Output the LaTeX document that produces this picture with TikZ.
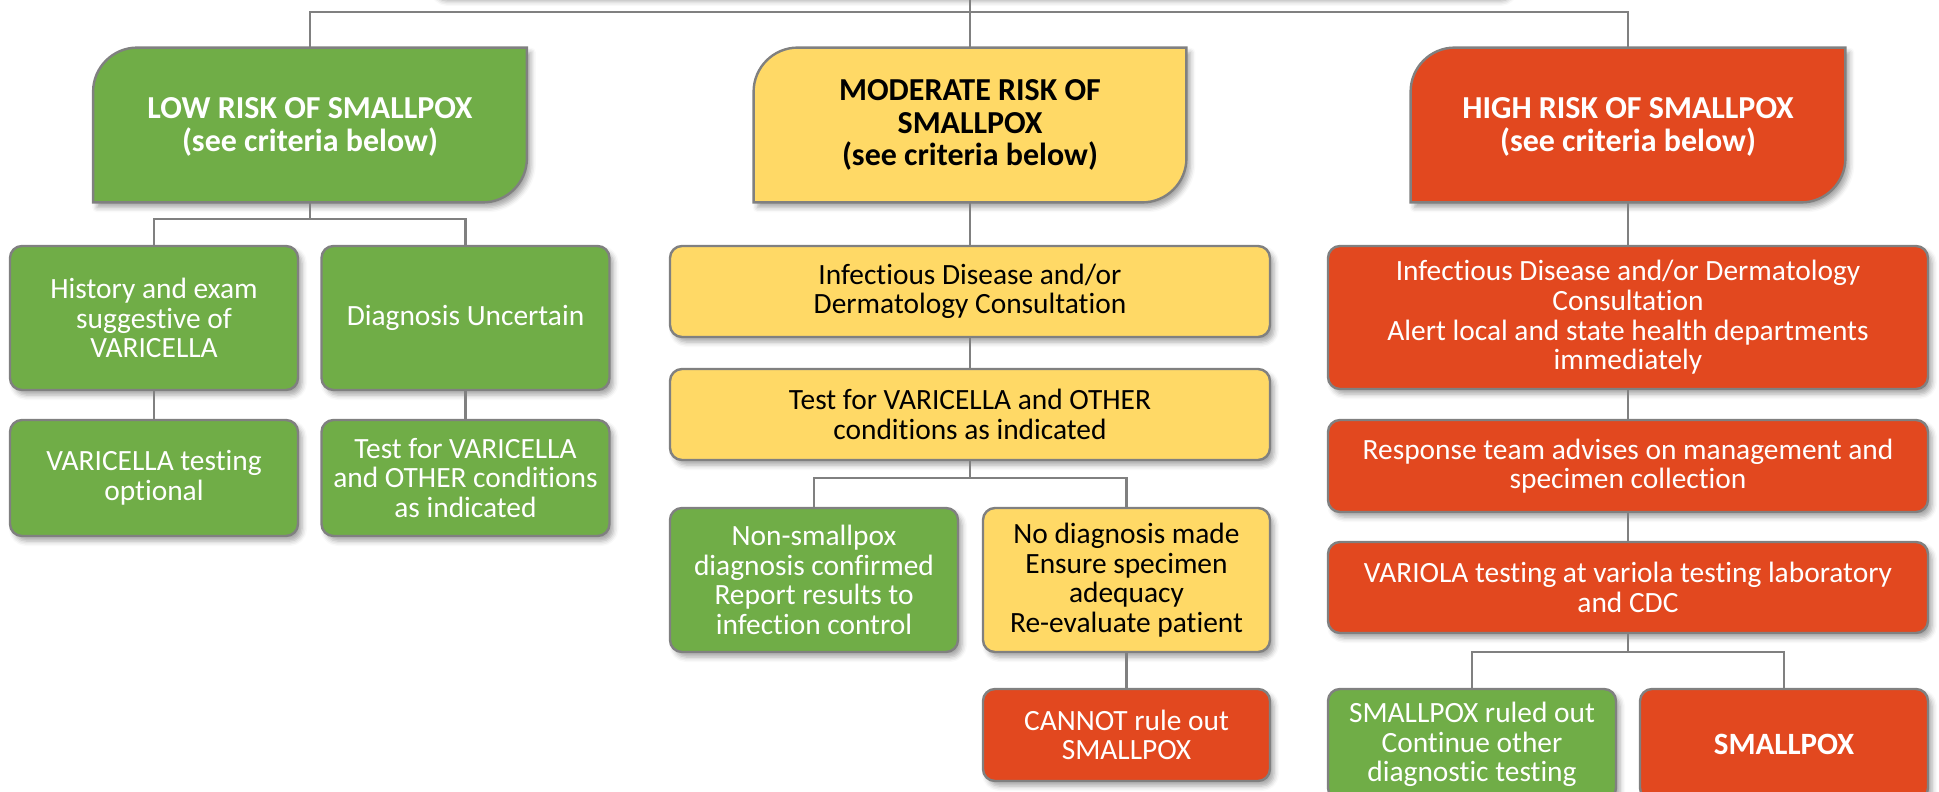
\documentclass[tikz,border=0pt]{standalone}
\usepackage{fontspec}
\setmainfont{Carlito}[Ligatures=NoCommon]
\usetikzlibrary{shadows.blur}
\definecolor{riskgreen}{RGB}{112, 173, 71}
\definecolor{riskgold}{RGB}{255, 217, 102}
\definecolor{riskred}{RGB}{226, 72, 31}
\definecolor{edgegray}{RGB}{128, 128, 128}

\tikzset{
    softshadow/.style={blur shadow={shadow xshift=2pt, shadow yshift=-2.5pt, shadow blur radius=2.5pt, shadow opacity=35}},
    box/.style={draw=edgegray, line width=1.2pt, rounded corners=6pt, align=center, inner sep=0pt,
                font=\fontsize{14.7}{14.8}\selectfont, softshadow},
    greenbox/.style={box, fill=riskgreen, text=white},
    goldbox/.style={box, fill=riskgold, text=black},
    redbox/.style={box, fill=riskred, text=white},
    hdr/.style={inner sep=0pt, minimum height=77pt},
    hdrtext/.style={align=center, inner sep=0pt, font=\bfseries\fontsize{16}{16.3}\selectfont},
    hdrline/.style={draw=edgegray, line width=1.2pt, softshadow},
    link/.style={edgegray, line width=1.2pt},
}

\begin{document}
\begin{tikzpicture}[x=0.5pt, y=-0.5pt]
            \useasboundingbox (0,0) rectangle (1939,792);
            % top box, only its shadow shows
            \node[box, draw=none, fill=white, minimum width=539pt, minimum height=29pt] (top) at (970,-33) {};
            % risk headers: frame first, then the shape, then the text
            \node[hdr, minimum width=216.5pt] (low)  at ( 310,125) {};
            \node[hdr, minimum width=216pt]   (mod)  at ( 970,125) {};
            \node[hdr, minimum width=217pt]   (high) at (1628,125) {};
            \filldraw[hdrline, fill=riskgreen] (low.south west) -- ([yshift=-22pt]low.north west)
                .. controls ([yshift=-9.9pt]low.north west) and ([xshift=9.9pt]low.north west) .. ([xshift=22pt]low.north west)
                -- (low.north east) -- ([yshift=22pt]low.south east)
                .. controls ([yshift=9.9pt]low.south east) and ([xshift=-9.9pt]low.south east) .. ([xshift=-22pt]low.south east) -- cycle;
            \filldraw[hdrline, fill=riskgold] (mod.south west) -- ([yshift=-22pt]mod.north west)
                .. controls ([yshift=-9.9pt]mod.north west) and ([xshift=9.9pt]mod.north west) .. ([xshift=22pt]mod.north west)
                -- (mod.north east) -- ([yshift=22pt]mod.south east)
                .. controls ([yshift=9.9pt]mod.south east) and ([xshift=-9.9pt]mod.south east) .. ([xshift=-22pt]mod.south east) -- cycle;
            \filldraw[hdrline, fill=riskred] (high.south west) -- ([yshift=-22pt]high.north west)
                .. controls ([yshift=-9.9pt]high.north west) and ([xshift=9.9pt]high.north west) .. ([xshift=22pt]high.north west)
                -- (high.north east) -- ([yshift=22pt]high.south east)
                .. controls ([yshift=9.9pt]high.south east) and ([xshift=-9.9pt]high.south east) .. ([xshift=-22pt]high.south east) -- cycle;
            \node[hdrtext, text=white] (lowtext)  at ([yshift=-1pt]low.center)  {LOW RISK OF SMALLPOX\\(see criteria below)};
            \node[hdrtext, text=black] (modtext)  at (mod)  {MODERATE RISK OF\\SMALLPOX\\(see criteria below)};
            \node[hdrtext, text=white] (hightext) at ([yshift=-1pt]high.center) {HIGH RISK OF SMALLPOX\\(see criteria below)};
            % LOW branch
            \node[greenbox, minimum width=144pt, minimum height=72pt] (hist)    at ( 154,318) {History and exam\\suggestive of\\VARICELLA};
            \node[greenbox, minimum width=144pt, minimum height=72pt] (diag)    at ( 465.5,318) {Diagnosis Uncertain};
            \node[greenbox, minimum width=144pt, minimum height=58pt] (varopt)  at ( 154,478) {VARICELLA testing\\optional};
            \node[greenbox, minimum width=144pt, minimum height=58pt] (testlow) at ( 465.5,478) {Test for VARICELLA\\and OTHER conditions\\as indicated};
            % MODERATE branch
            \node[goldbox,  minimum width=300pt, minimum height=45.5pt] (modcons) at ( 970,291.5) {Infectious Disease and/or\\Dermatology Consultation};
            \node[goldbox,  minimum width=300pt, minimum height=45.5pt] (modtest) at ( 970,414.5) {Test for VARICELLA and OTHER\\conditions as indicated};
            \node[greenbox, minimum width=144pt, minimum height=72pt]   (nonsp)   at ( 814,580) {Non-smallpox\\diagnosis confirmed\\Report results to\\infection control};
            \node[goldbox,  minimum width=143.5pt, minimum height=72pt] (nodiag)  at (1126.5,580) {No diagnosis made\\Ensure specimen\\adequacy\\Re-evaluate patient};
            \node[redbox,   minimum width=143.5pt, minimum height=46pt] (cannot)  at (1126.5,735) {CANNOT rule out\\SMALLPOX};
            % HIGH branch
            \node[redbox,   minimum width=300pt, minimum height=71.5pt] (highcons) at (1628,317.5) {Infectious Disease and/or Dermatology\\Consultation\\Alert local and state health departments\\immediately};
            \node[redbox,   minimum width=300pt, minimum height=46pt]   (resp)     at (1628,466) {Response team advises on management and\\specimen collection};
            \node[redbox,   minimum width=300pt, minimum height=45.5pt] (variola)  at (1628,587.5) {VARIOLA testing at variola testing laboratory\\and CDC};
            \node[greenbox, minimum width=144pt, minimum height=55.5pt] (ruled)    at (1472,744.5) {SMALLPOX ruled out\\Continue other\\diagnostic testing};
            \node[redbox,   minimum width=144pt, minimum height=55.5pt, font=\bfseries\fontsize{15.5}{16.5}\selectfont] (spox) at (1784,744.5) {SMALLPOX};
            % connectors
            \coordinate (topbus)  at ( 970,12);
            \coordinate (lowbus)  at ( 310,219);
            \coordinate (modbus)  at ( 970,478);
            \coordinate (highbus) at (1628,652);
            \draw[link] (top.south) -- (mod.north);
            \draw[link] (low.north) |- (topbus) -| (high.north);
            \draw[link] (low.south) -- (lowbus);
            \draw[link] (hist.north) |- (lowbus) -| (diag.north);
            \draw[link] (hist) -- (varopt);
            \draw[link] (diag) -- (testlow);
            \draw[link] (mod.south) -- (modcons);
            \draw[link] (modcons) -- (modtest);
            \draw[link] (modtest) -- (modbus);
            \draw[link] (nonsp.north) |- (modbus) -| (nodiag.north);
            \draw[link] (nodiag) -- (cannot);
            \draw[link] (high.south) -- (highcons);
            \draw[link] (highcons) -- (resp);
            \draw[link] (resp) -- (variola);
            \draw[link] (variola) -- (highbus);
            \draw[link] (ruled.north) |- (highbus) -| (spox.north);
        \end{tikzpicture}
\end{document}
